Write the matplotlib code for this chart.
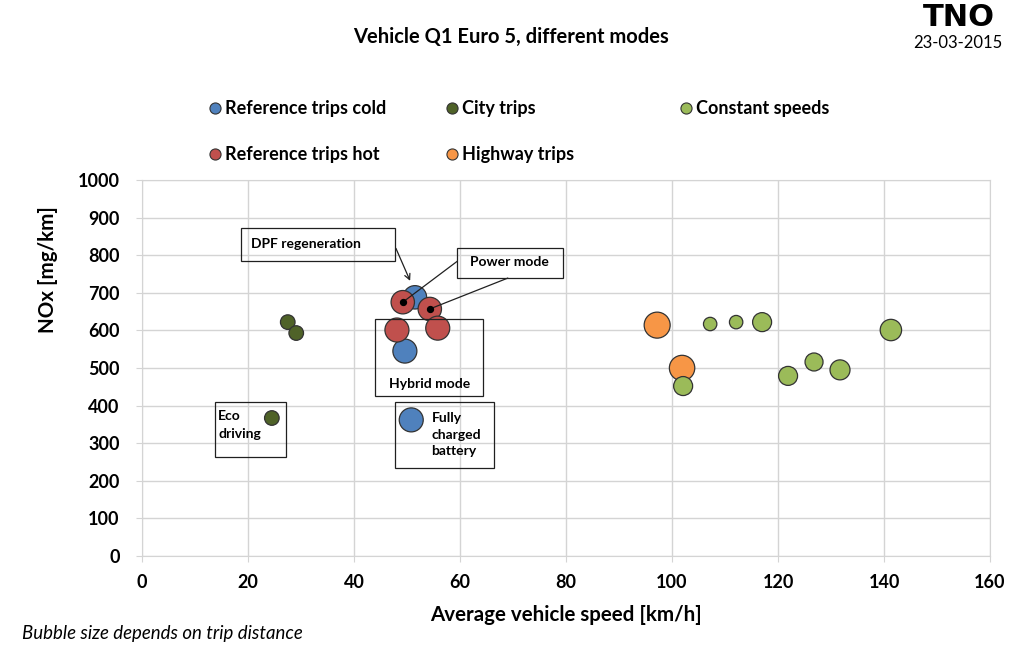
import matplotlib.pyplot as plt
from matplotlib.patches import Rectangle
from matplotlib.lines import Line2D

plt.rcParams['font.family'] = ['Lato', 'DejaVu Sans']

# ---- data ----
cold_speed = [51.5, 49.6, 50.8]
cold_nox = [688, 545, 362]
cold_size = [11.7, 12.0, 12.0]

hot_speed = [49.2, 54.3, 48.1, 55.8]
hot_nox = [675, 657, 601, 606]
hot_size = [11.7, 11.7, 12.0, 12.0]

city_speed = [27.5, 29.1, 24.5]
city_nox = [622, 593, 367]
city_size = [7.3, 7.3, 7.3]

highway_speed = [97.2, 101.9]
highway_nox = [614, 500]
highway_size = [13.0, 12.7]

const_speed = [102.1, 107.2, 112.1, 117.0, 121.9, 126.8, 131.7, 141.3]
const_nox = [452, 617, 622, 622, 479, 516, 495, 601]
const_size = [9.5, 6.7, 6.7, 9.5, 9.5, 9.0, 10.0, 10.7]

series = [
    ("Reference trips cold", cold_speed, cold_nox, cold_size, '#4F81BD'),
    ("Reference trips hot", hot_speed, hot_nox, hot_size, '#C0504D'),
    ("City trips", city_speed, city_nox, city_size, '#4F6228'),
    ("Highway trips", highway_speed, highway_nox, highway_size, '#F79646'),
    ("Constant speeds", const_speed, const_nox, const_size, '#9BBB59'),
]

fig = plt.figure(figsize=(10.23, 6.45), dpi=100)
ax = fig.add_axes([142 / 1023, 1 - 556 / 645, (990 - 142) / 1023, (556 - 180) / 645])

px = 72 / 100  # points per pixel
for name, xs, ys, rs, col in series:
    ax.scatter(xs, ys, s=[(2 * r * px) ** 2 for r in rs], color=col,
               edgecolor='#333333', linewidth=0.9, zorder=3, label=name)

ax.set_xlim(0, 160)
ax.set_ylim(0, 1000)
ax.set_xticks(range(0, 161, 20))
ax.set_yticks(range(0, 1001, 100))
ax.grid(True, color='#d4d4d4', linewidth=1)
ax.set_axisbelow(True)
for sp in ax.spines.values():
    sp.set_color('#d4d4d4')
ax.tick_params(axis='y', length=4, color='#d4d4d4', labelsize=13, pad=12)
ax.tick_params(axis='x', length=4, color='#d4d4d4', labelsize=13, pad=9)
for lab in ax.get_xticklabels() + ax.get_yticklabels():
    lab.set_fontweight('bold')

ax.set_xlabel('Average vehicle speed [km/h]', fontsize=14.8, fontweight='bold')
ax.set_ylabel('NOx [mg/km]', fontsize=14.8, fontweight='bold')
ax.xaxis.set_label_coords(0.5, -(615 - 556) / 376, transform=ax.transAxes)
ax.yaxis.set_label_coords(-(142 - 48) / 848, (556 - 270) / 376, transform=ax.transAxes)
ax.xaxis.label.set_va('center')
ax.yaxis.label.set_va('center')

# annotation boxes
def box(x0, y0, x1, y1):
    ax.add_patch(Rectangle((x0, y0), x1 - x0, y1 - y0, fill=False,
                           edgecolor='#202020', linewidth=0.9, zorder=4))

fs = 10
box(18.7, 785, 47.7, 872)
ax.text(20.5, 830, 'DPF regeneration', fontsize=fs, fontweight='bold', va='center', zorder=5)
ax.annotate('', xy=(50.8, 725), xytext=(47.7, 825),
            arrowprops=dict(arrowstyle='->', color='#202020', lw=0.9), zorder=5)

box(59.4, 739, 79.4, 819)
ax.text(69.4, 782, 'Power mode', fontsize=fs, fontweight='bold', ha='center', va='center', zorder=5)
ax.plot([59.4, hot_speed[0]], [783, hot_nox[0]], color='#202020', lw=0.9, zorder=5)
ax.plot([69.0, hot_speed[1]], [739, hot_nox[1]], color='#202020', lw=0.9, zorder=5)
ax.scatter([hot_speed[0], hot_speed[1]], [hot_nox[0], hot_nox[1]], s=18, color='black', zorder=6)

box(44.0, 425, 64.3, 630)
ax.text(54.2, 457, 'Hybrid mode', fontsize=fs, fontweight='bold', ha='center', va='center', zorder=5)

box(47.7, 234, 66.4, 410)
ax.text(54.6, 382, 'Fully\ncharged\nbattery', fontsize=fs, fontweight='bold',
        va='top', linespacing=1.45, zorder=5)

box(13.8, 263, 27.2, 410)
ax.text(14.4, 388, 'Eco\ndriving', fontsize=fs, fontweight='bold',
        va='top', linespacing=1.6, zorder=5)

# legend: three columns placed like the original
handles = {}
for name, xs, ys, rs, col in series:
    handles[name] = Line2D([], [], marker='o', linestyle='none', markersize=8,
                           markerfacecolor=col, markeredgecolor='#333333', markeredgewidth=0.8)
cols = [
    (["Reference trips cold", "Reference trips hot"], 206),
    (["City trips", "Highway trips"], 443),
    (["Constant speeds"], 677),
]
for names, xpix in cols:
    fig.legend([handles[n] for n in names], names, loc='upper left',
               bbox_to_anchor=(xpix / 1023, 1 - 100 / 645), frameon=False,
               borderpad=0, borderaxespad=0,
               handletextpad=0.05, handlelength=1.0, labelspacing=1.6,
               prop={'weight': 'bold', 'size': 13})

fig.text(511 / 1023, 1 - 37 / 645, 'Vehicle Q1 Euro 5, different modes',
         ha='center', va='center', fontsize=14.5, fontweight='bold')
fig.text(959 / 1023, 1 - 17 / 645, 'TNO', ha='center', va='center',
         fontsize=22, fontweight='black', family='DejaVu Sans')
fig.text(958 / 1023, 1 - 43 / 645, '23-03-2015', ha='center', va='center', fontsize=12)
fig.text(22 / 1023, 1 - 633 / 645, 'Bubble size depends on trip distance',
         ha='left', va='center', fontsize=13.4, style='italic')

fig.savefig('out.png', dpi=100)
